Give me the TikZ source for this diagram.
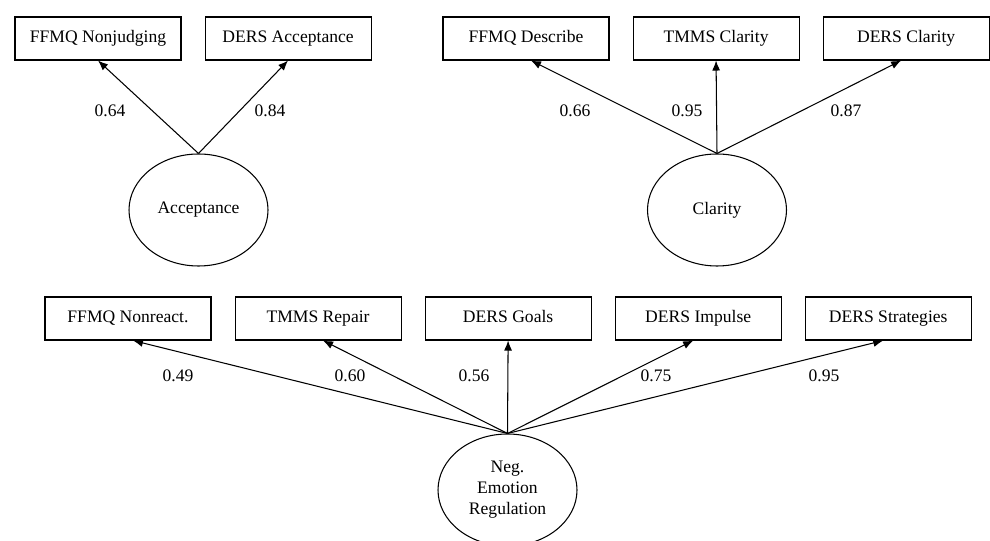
\documentclass[tikz,border=0pt]{standalone}
\usepackage{fontspec}
\setmainfont{Liberation Serif}
\usetikzlibrary{arrows.meta,positioning,shapes.geometric}

\begin{document}
\begin{tikzpicture}[x=0.2mm,y=-0.2mm,font=\normalsize,node distance=4.6mm,
  obs/.style={draw,line width=0.6pt,minimum width=33.2mm,minimum height=8.6mm,inner sep=0pt,
    text height=1.55ex,text depth=0.45ex},
  lat/.style={draw,ellipse,line width=0.6pt,minimum width=27.8mm,minimum height=22.4mm,inner sep=0pt,align=center},
  load/.style={-{Latex[length=2mm,width=1.6mm]},line width=0.6pt}]
\useasboundingbox (0,0) rectangle (990,541);
% Acceptance factor
\node[obs] (fnj) at (98,38.5) {FFMQ Nonjudging};
\node[obs,right=of fnj] (dacc) {DERS Acceptance};
\node[lat] (acc) at (198.5,210) {Acceptance};
\draw[load] (acc.north) -- (fnj.south);
\draw[load] (acc.north) -- (dacc.south);
\node (l1) at (110,111) {0.64};
\node (l2) at (270,111) {0.84};
% Clarity factor
\node[obs] (fdes) at (526,38.5) {FFMQ Describe};
\node[obs,right=of fdes] (tcla) {TMMS Clarity};
\node[obs,right=of tcla] (dcla) {DERS Clarity};
\node[lat] (cla) at (717,210) {Clarity};
\draw[load] (cla.north) -- ([xshift=1mm]fdes.south);
\draw[load] (cla.north) -- (tcla.south);
\draw[load] (cla.north) -- ([xshift=-1mm]dcla.south);
\node (l3) at (575,111) {0.66};
\node (l4) at (687,111) {0.95};
\node (l5) at (846,111) {0.87};
% Neg. emotion regulation factor
\node[obs] (fnr) at (128,318.5) {FFMQ Nonreact.};
\node[obs,right=of fnr] (trep) {TMMS Repair};
\node[obs,right=of trep] (dgoa) {DERS Goals};
\node[obs,right=of dgoa] (dimp) {DERS Impulse};
\node[obs,right=of dimp] (dstr) {DERS Strategies};
\node[lat] (ner) at (507.5,490) {Neg.\\Emotion\\Regulation};
\draw[load] (ner.north) -- ([xshift=1mm]fnr.south);
\draw[load] (ner.north) -- ([xshift=1mm]trep.south);
\draw[load] (ner.north) -- (dgoa.south);
\draw[load] (ner.north) -- ([xshift=-1mm]dimp.south);
\draw[load] (ner.north) -- ([xshift=-1mm]dstr.south);
\node (l6) at (178,376) {0.49};
\node (l7) at (350,376) {0.60};
\node (l8) at (474,376) {0.56};
\node (l9) at (656,376) {0.75};
\node (l10) at (824,376) {0.95};
\end{tikzpicture}
\end{document}
